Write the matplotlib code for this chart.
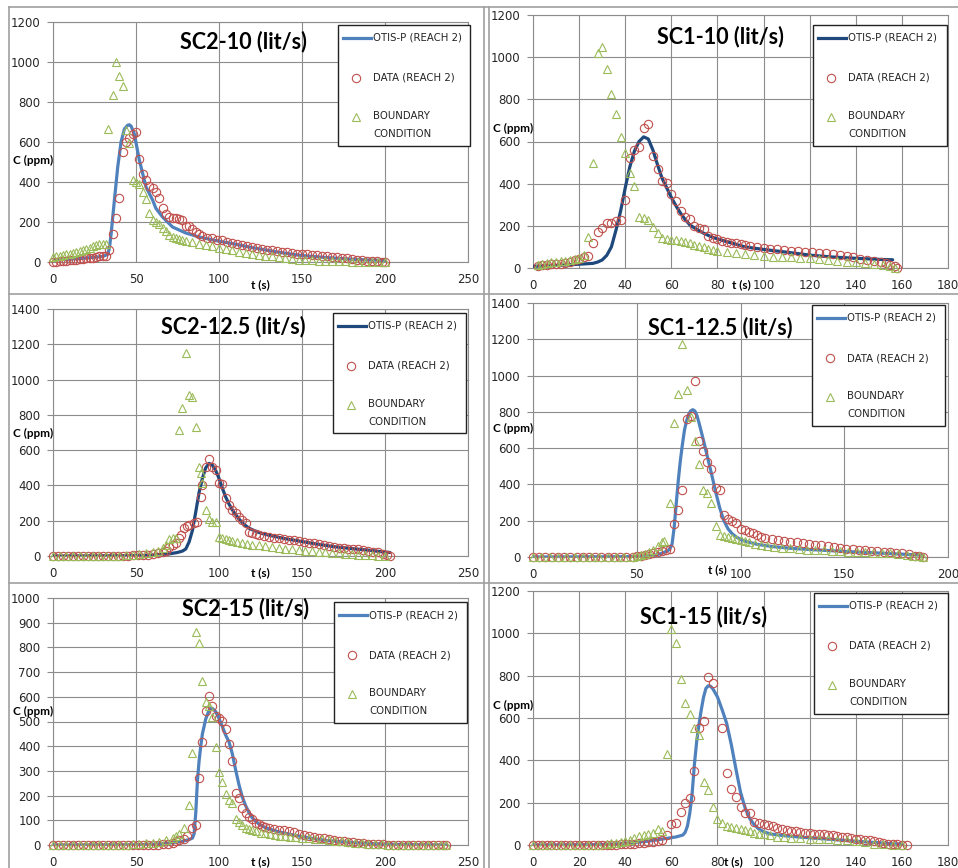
import matplotlib
matplotlib.use("Agg")
import matplotlib.pyplot as plt
from matplotlib.lines import Line2D
from matplotlib.patches import Rectangle

# ---- data (t [s], C [ppm]) ----
sc2_10_otis = [(0, 10), (10, 14), (20, 20), (30, 28), (33, 38), (34, 70), (35, 140), (37, 310), (39, 476),
               (41, 600), (43, 665), (45, 684), (46, 686), (47, 680), (49, 640), (52, 510), (56, 376),
               (60, 310), (62, 268), (66, 225), (72, 175), (80, 145), (88, 125), (100, 104), (108, 92),
               (120, 72), (135, 50), (149, 33), (165, 22), (180, 14), (190, 10), (200, 8)]
sc2_10_data = [(0, 0), (2, 2), (4, 3), (6, 5), (8, 6), (10, 8), (12, 10), (14, 12), (16, 14), (18, 16),
               (20, 18), (22, 20), (24, 22), (26, 25), (28, 28), (30, 30), (32, 28), (34, 60), (36, 140),
               (38, 220), (40, 320), (42, 550), (44, 600), (46, 620), (48, 640), (50, 650), (52, 515),
               (54, 440), (56, 410), (58, 380), (60, 370), (62, 350), (64, 320), (66, 270), (68, 240),
               (70, 225), (72, 220), (74, 220), (76, 215), (78, 210), (80, 180), (82, 180), (84, 165),
               (86, 150), (88, 140), (90, 130), (93, 122), (96, 118), (99, 112), (102, 108), (105, 102),
               (108, 97), (111, 90), (114, 85), (117, 80), (120, 75), (123, 70), (126, 65), (129, 60),
               (132, 58), (135, 55), (138, 50), (141, 48), (144, 45), (147, 42), (150, 40), (153, 38),
               (156, 36), (159, 34), (162, 32), (165, 30), (168, 27), (171, 25), (174, 22), (177, 18),
               (180, 15), (183, 12), (186, 10), (189, 7), (192, 5), (195, 3), (198, 2), (200, 1)]
sc2_10_bc = [(0, 25), (2, 28), (4, 32), (6, 35), (8, 40), (10, 42), (12, 45), (14, 50), (16, 55), (18, 60),
             (20, 65), (22, 70), (24, 80), (26, 85), (28, 90), (30, 90), (32, 88), (33, 664), (36, 833),
             (38, 998), (40, 931), (42, 878), (44, 660), (46, 595), (48, 410), (50, 400), (52, 390),
             (54, 350), (56, 315), (58, 245), (60, 210), (62, 200), (64, 190), (66, 170), (68, 155),
             (70, 135), (72, 125), (74, 120), (76, 115), (78, 110), (80, 105), (84, 98), (88, 92), (92, 85),
             (96, 78), (100, 70), (104, 64), (108, 58), (112, 52), (116, 46), (120, 40), (124, 36),
             (128, 32), (132, 28), (136, 24), (140, 20), (144, 16), (148, 12), (152, 10), (156, 8),
             (160, 6), (164, 5), (168, 4), (172, 3), (176, 3), (180, 2), (184, 2), (188, 1), (192, 1),
             (196, 0), (200, 0)]

sc1_10_otis = [(0, 8), (10, 12), (20, 18), (26, 22), (28, 28), (30, 38), (32, 60), (34, 100), (36, 180),
               (38, 270), (40, 380), (42, 480), (44, 555), (46, 600), (48, 622), (50, 612), (52, 560),
               (54, 490), (56, 425), (58, 380), (60, 335), (62, 295), (64, 260), (66, 230), (68, 205),
               (70, 190), (74, 165), (78, 145), (84, 125), (92, 100), (100, 88), (110, 75), (121, 60),
               (130, 52), (140, 46), (150, 41), (156, 39)]
sc1_10_data = [(2, 10), (4, 12), (6, 15), (8, 18), (10, 20), (12, 20), (14, 25), (16, 30), (18, 40),
               (20, 45), (22, 50), (24, 55), (26, 118), (28, 169), (30, 190), (32, 213), (34, 215),
               (36, 224), (38, 228), (40, 324), (42, 520), (44, 560), (46, 575), (48, 663), (50, 684),
               (52, 529), (54, 469), (56, 414), (58, 403), (60, 352), (62, 319), (64, 272), (66, 240),
               (68, 232), (70, 200), (72, 192), (74, 185), (76, 150), (78, 142), (80, 136), (82, 130),
               (84, 125), (86, 120), (88, 117), (90, 115), (92, 110), (94, 105), (97, 100), (100, 96),
               (103, 92), (106, 88), (109, 86), (112, 83), (115, 80), (118, 78), (121, 75), (124, 72),
               (127, 70), (130, 66), (133, 60), (136, 55), (139, 50), (142, 45), (145, 40), (148, 35),
               (151, 28), (153, 22), (155, 15), (157, 8), (158, 2)]
sc1_10_bc = [(2, 16), (4, 18), (6, 22), (8, 28), (10, 30), (12, 32), (14, 35), (16, 38), (18, 42), (20, 48),
             (22, 63), (24, 147), (26, 498), (28, 1019), (30, 1050), (32, 945), (34, 825), (36, 730),
             (38, 620), (40, 545), (42, 450), (44, 390), (46, 240), (48, 237), (50, 229), (52, 193),
             (54, 166), (56, 140), (58, 137), (60, 135), (62, 133), (64, 128), (66, 122), (68, 117),
             (70, 110), (72, 105), (74, 100), (76, 92), (78, 87), (80, 82), (84, 76), (88, 72), (92, 68),
             (96, 62), (100, 57), (104, 54), (108, 52), (112, 50), (116, 48), (120, 46), (124, 42),
             (128, 38), (132, 33), (136, 30), (140, 27), (144, 22), (148, 18), (152, 12), (155, 8), (157, 2)]

sc2_125_otis = [(0, 0), (50, 2), (60, 5), (70, 12), (75, 20), (78, 28), (80, 40), (82, 80), (84, 145),
                (86, 250), (88, 360), (90, 440), (92, 500), (94, 525), (96, 515), (98, 485), (100, 440),
                (102, 385), (104, 335), (106, 295), (108, 262), (110, 235), (112, 210), (115, 180),
                (118, 158), (121, 145), (125, 130), (130, 118), (140, 98), (150, 82), (160, 66), (170, 52),
                (180, 42), (190, 33), (200, 22), (203, 20)]
sc2_125_data = [(0, 0), (3, 0), (6, 0), (9, 0), (12, 0), (15, 0), (18, 0), (21, 0), (24, 0), (27, 0), (30, 0),
                (33, 0), (36, 0), (39, 0), (42, 0), (45, 2), (48, 3), (51, 5), (54, 6), (57, 8), (60, 10),
                (63, 15), (66, 20), (68, 30), (70, 53), (72, 60), (74, 72), (76, 100), (77, 119), (79, 157),
                (81, 170), (82, 176), (85, 185), (87, 191), (89, 333), (90, 403), (92, 507), (94, 549),
                (96, 507), (98, 488), (100, 412), (102, 409), (104, 327), (106, 290), (108, 261), (110, 242),
                (112, 223), (114, 204), (116, 185), (118, 138), (120, 130), (122, 125), (124, 120), (127, 112),
                (130, 106), (133, 102), (136, 100), (139, 97), (142, 93), (145, 90), (148, 84), (151, 80),
                (154, 76), (157, 72), (160, 66), (163, 62), (166, 58), (169, 52), (172, 48), (175, 45),
                (178, 42), (181, 40), (184, 37), (187, 34), (190, 30), (193, 25), (196, 20), (199, 14),
                (201, 8), (203, 2)]
sc2_125_bc = [(0, 0), (4, 0), (8, 0), (12, 0), (16, 0), (20, 0), (24, 0), (28, 0), (32, 0), (36, 0), (40, 2),
              (44, 4), (48, 6), (52, 10), (56, 15), (60, 20), (63, 30), (66, 45), (68, 62), (70, 95), (72, 100),
              (74, 100), (76, 715), (78, 838), (80, 1150), (82, 914), (84, 904), (86, 734), (88, 507),
              (89, 469), (90, 412), (92, 261), (94, 208), (96, 195), (98, 195), (100, 106), (102, 100),
              (104, 95), (106, 90), (108, 85), (111, 80), (114, 75), (117, 70), (120, 65), (124, 60), (128, 55),
              (132, 50), (136, 46), (140, 42), (144, 38), (148, 34), (152, 30), (156, 27), (160, 25), (164, 22),
              (168, 18), (172, 15), (176, 12), (180, 10), (184, 8), (188, 5), (192, 3), (196, 1), (200, 0)]

sc1_125_otis = [(0, 0), (50, 2), (58, 8), (62, 20), (65, 35), (66, 45), (67, 70), (68, 160), (69, 290),
                (70, 420), (71, 530), (72, 620), (73, 700), (74, 750), (75, 785), (76, 805), (77, 812),
                (78, 805), (79, 780), (80, 740), (82, 650), (84, 555), (86, 460), (88, 360), (90, 270),
                (92, 200), (94, 155), (96, 128), (98, 110), (100, 97), (103, 85), (108, 70), (115, 58),
                (125, 47), (140, 37), (155, 28), (170, 20), (188, 10)]
sc1_125_data = [(0, 0), (3, 0), (6, 0), (9, 0), (12, 0), (15, 0), (18, 0), (21, 0), (24, 0), (27, 0), (30, 0),
                (33, 0), (36, 0), (39, 0), (42, 0), (45, 0), (48, 2), (50, 5), (52, 8), (54, 12), (56, 15),
                (58, 22), (60, 28), (62, 35), (64, 40), (66, 46), (68, 180), (70, 258), (72, 368), (74, 761),
                (76, 775), (78, 972), (80, 641), (82, 586), (84, 521), (86, 484), (88, 383), (90, 368),
                (92, 230), (94, 212), (96, 199), (98, 190), (100, 157), (102, 150), (104, 140), (106, 130),
                (108, 120), (110, 110), (112, 105), (115, 100), (118, 95), (121, 90), (124, 85), (127, 80),
                (130, 76), (133, 72), (136, 68), (139, 64), (142, 60), (145, 55), (148, 48), (151, 44),
                (154, 42), (157, 40), (160, 38), (163, 35), (166, 32), (169, 30), (172, 27), (175, 24),
                (178, 20), (181, 14), (184, 8), (186, 4), (188, 2)]
sc1_125_bc = [(0, 0), (4, 0), (8, 0), (12, 0), (16, 0), (20, 0), (24, 0), (28, 0), (32, 0), (36, 0), (40, 0),
              (44, 0), (48, 2), (50, 8), (52, 12), (54, 18), (56, 25), (58, 40), (60, 60), (62, 83), (63, 88),
              (66, 298), (68, 740), (70, 897), (72, 1173), (74, 921), (76, 773), (78, 641), (80, 512),
              (82, 368), (84, 355), (86, 300), (88, 169), (90, 120), (92, 116), (94, 110), (96, 105),
              (98, 100), (100, 92), (102, 86), (104, 80), (107, 74), (110, 68), (113, 62), (116, 57), (120, 52),
              (124, 48), (128, 44), (132, 40), (136, 38), (140, 36), (144, 34), (148, 32), (152, 30), (156, 28),
              (160, 26), (164, 24), (168, 22), (172, 20), (176, 16), (180, 12), (183, 8), (186, 4), (188, 1)]

sc2_15_otis = [(0, 0), (50, 1), (60, 3), (70, 8), (78, 15), (82, 22), (84, 28), (85, 45), (86, 130), (87, 260),
               (88, 340), (89, 400), (90, 450), (92, 510), (94, 545), (95, 553), (96, 553), (98, 540),
               (100, 512), (102, 480), (104, 445), (106, 418), (108, 370), (110, 305), (112, 245), (114, 195),
               (116, 160), (118, 132), (120, 110), (124, 85), (128, 70), (135, 55), (145, 40), (155, 28),
               (165, 18), (180, 10), (195, 5), (210, 2), (237, 0)]
sc2_15_data = [(0, 0), (3, 0), (6, 0), (9, 0), (12, 0), (15, 0), (18, 0), (21, 0), (24, 0), (27, 0), (30, 0),
               (33, 0), (36, 0), (39, 0), (42, 0), (45, 0), (48, 0), (51, 0), (54, 0), (57, 0), (60, 1), (63, 2),
               (66, 4), (69, 6), (72, 10), (74, 15), (76, 20), (79, 26), (81, 36), (84, 70), (86, 81),
               (88, 270), (90, 418), (92, 542), (94, 605), (96, 562), (98, 522), (100, 515), (102, 504),
               (104, 468), (106, 410), (108, 340), (110, 212), (112, 189), (114, 151), (116, 131), (118, 115),
               (120, 105), (122, 90), (124, 84), (126, 78), (128, 72), (130, 70), (133, 65), (136, 62),
               (139, 59), (142, 56), (145, 53), (148, 45), (151, 40), (154, 36), (157, 33), (160, 30),
               (163, 27), (166, 24), (169, 21), (172, 18), (175, 16), (178, 14), (181, 12), (184, 10),
               (187, 8), (190, 6), (193, 5), (196, 4), (199, 3), (202, 2), (205, 1), (208, 1), (211, 0),
               (214, 0), (217, 0), (220, 0), (223, 0), (226, 0), (229, 0), (232, 0), (235, 0), (237, 0)]
sc2_15_bc = [(0, 0), (4, 0), (8, 0), (12, 0), (16, 0), (20, 0), (24, 0), (28, 0), (32, 0), (36, 0), (40, 0),
             (44, 2), (48, 4), (52, 6), (56, 8), (60, 10), (64, 14), (68, 20), (72, 30), (74, 38), (76, 46),
             (79, 67), (82, 160), (84, 373), (86, 861), (88, 818), (90, 663), (92, 578), (94, 562), (96, 517),
             (98, 396), (100, 295), (102, 255), (104, 208), (106, 181), (108, 171), (110, 106), (112, 93),
             (114, 80), (116, 70), (118, 65), (120, 60), (122, 55), (125, 50), (128, 47), (131, 44), (134, 41),
             (137, 38), (140, 35), (143, 33), (146, 31), (150, 30), (154, 28), (158, 26), (162, 24), (166, 21),
             (170, 18), (174, 15), (178, 12), (182, 10), (186, 8), (190, 6), (194, 4), (198, 3), (202, 2),
             (206, 1), (210, 0), (214, 0), (218, 0), (222, 0), (226, 0), (230, 0), (234, 0), (237, 0)]

sc1_15_otis = [(0, 0), (30, 2), (40, 8), (50, 18), (56, 28), (62, 38), (65, 47), (66, 60), (67, 90), (68, 150),
               (69, 240), (70, 380), (71, 490), (72, 570), (73, 640), (74, 700), (75, 740), (76, 752),
               (77, 750), (78, 738), (80, 700), (82, 640), (84, 575), (86, 475), (88, 360), (90, 250),
               (92, 175), (94, 125), (96, 95), (98, 75), (100, 63), (103, 52), (108, 45), (115, 38),
               (125, 30), (135, 22), (145, 14), (155, 7), (160, 4)]
sc1_15_data = [(0, 0), (2, 0), (4, 0), (6, 0), (8, 0), (10, 0), (12, 0), (14, 0), (16, 0), (18, 0), (20, 0),
               (22, 0), (24, 0), (26, 0), (28, 0), (30, 0), (32, 0), (34, 1), (36, 2), (38, 3), (40, 4), (42, 5),
               (44, 6), (46, 8), (48, 10), (50, 12), (52, 16), (54, 20), (56, 24), (58, 47), (60, 98),
               (62, 102), (64, 154), (66, 200), (68, 220), (70, 350), (72, 554), (74, 587), (76, 794),
               (78, 764), (82, 554), (84, 342), (86, 263), (88, 228), (90, 181), (92, 150), (94, 150),
               (96, 110), (98, 105), (100, 100), (102, 95), (104, 90), (106, 82), (108, 76), (110, 72),
               (112, 68), (114, 64), (116, 60), (118, 58), (120, 56), (122, 54), (124, 52), (126, 50),
               (128, 48), (130, 46), (132, 42), (134, 40), (136, 36), (138, 32), (140, 30), (142, 28),
               (144, 25), (146, 22), (148, 20), (150, 14), (152, 10), (154, 7), (156, 5), (158, 3), (160, 2),
               (162, 0)]
sc1_15_bc = [(0, 0), (4, 0), (8, 0), (12, 0), (16, 0), (20, 0), (24, 0), (28, 2), (32, 5), (34, 8), (36, 10),
             (38, 14), (40, 18), (42, 24), (44, 32), (46, 42), (48, 47), (50, 52), (52, 58), (54, 74), (56, 68),
             (58, 428), (60, 1019), (62, 953), (64, 784), (66, 672), (68, 617), (70, 551), (72, 520), (74, 299),
             (76, 260), (78, 181), (80, 121), (82, 102), (84, 92), (86, 85), (88, 80), (90, 75), (92, 70),
             (94, 64), (96, 58), (98, 54), (100, 50), (103, 45), (106, 40), (109, 37), (112, 35), (116, 33),
             (120, 30), (124, 28), (128, 26), (132, 24), (136, 22), (140, 18), (144, 12), (148, 6), (152, 3),
             (156, 2), (160, 1)]

titles = ["SC2-10 (lit/s)", "SC1-10 (lit/s)", "SC2-12.5 (lit/s)",
          "SC1-12.5 (lit/s)", "SC2-15 (lit/s)", "SC1-15 (lit/s)"]
legend_labels = ["OTIS-P (REACH 2)", "DATA (REACH 2)", "BOUNDARY\nCONDITION"]

# ---- layout, all in pixels of a 958 x 868 image ----
W, H = 958, 868
BLUE = "#4f81bd"
NAVY = "#1f497d"
RED = "#c0504d"
GREEN = "#9bbb59"
GRID = "#8c8c8c"

panels = [
    # series, plot box (l, t, r, b), xmax, xstep, ymax, ystep, line colour, title xy, C xy, t xy, legend box
    dict(s=(sc2_10_otis, sc2_10_data, sc2_10_bc), box=(53, 22, 468, 262), xmax=250, xs=50, ymax=1200, ys=200,
         lc=BLUE, ti=(243, 42), cl=(33, 160), tl=(260, 285), lg=(338, 25, 470, 146)),
    dict(s=(sc1_10_otis, sc1_10_data, sc1_10_bc), box=(533, 15, 948, 268), xmax=180, xs=20, ymax=1200, ys=200,
         lc=NAVY, ti=(720, 37), cl=(513, 128), tl=(741, 285), lg=(813, 25, 947, 146)),
    dict(s=(sc2_125_otis, sc2_125_data, sc2_125_bc), box=(53, 309, 468, 556), xmax=250, xs=50, ymax=1400, ys=200,
         lc=NAVY, ti=(233, 327), cl=(33, 433), tl=(260, 573), lg=(333, 313, 466, 433)),
    dict(s=(sc1_125_otis, sc1_125_data, sc1_125_bc), box=(533, 303, 948, 557), xmax=200, xs=50, ymax=1400, ys=200,
         lc=BLUE, ti=(720, 328), cl=(513, 428), tl=(717, 570), lg=(812, 305, 945, 426)),
    dict(s=(sc2_15_otis, sc2_15_data, sc2_15_bc), box=(53, 598, 468, 845), xmax=250, xs=50, ymax=1000, ys=100,
         lc=BLUE, ti=(245, 609), cl=(33, 711), tl=(260, 862), lg=(334, 602, 467, 723)),
    dict(s=(sc1_15_otis, sc1_15_data, sc1_15_bc), box=(533, 591, 948, 845), xmax=180, xs=20, ymax=1200, ys=200,
         lc=BLUE, ti=(703, 617), cl=(513, 705), tl=(733, 862), lg=(814, 593, 948, 714)),
]


def fx(x):
    return x / W


def fy(y):
    return 1 - y / H


fig = plt.figure(figsize=(W / 100, H / 100), dpi=100, facecolor="white")

# outer frames of the six chart windows
for y in (7, 294, 583):
    fig.add_artist(Line2D([fx(9), 1], [fy(y), fy(y)], transform=fig.transFigure, color="#a0a0a0", lw=1.2))
for x in (9, 484, 489):
    fig.add_artist(Line2D([fx(x), fx(x)], [fy(7), 0], transform=fig.transFigure, color="#a0a0a0", lw=1.2))

for p, title in zip(panels, titles):
    l, t, r, b = p["box"]
    ax = fig.add_axes([fx(l), fy(b), (r - l) / W, (b - t) / H])
    otis, data, bc = p["s"]

    ax.plot([a for a, _ in otis], [c for _, c in otis], color=p["lc"], lw=2.3, solid_capstyle="round", zorder=3)
    ax.plot([a for a, _ in data], [c for _, c in data], ls="none", marker="o", mfc="none", mec=RED,
            ms=6, mew=0.8, clip_on=False, zorder=4)
    ax.plot([a for a, _ in bc], [c for _, c in bc], ls="none", marker="^", mfc="none", mec=GREEN,
            ms=6, mew=0.8, clip_on=False, zorder=5)

    ax.set_xlim(0, p["xmax"])
    ax.set_ylim(0, p["ymax"])
    ax.set_xticks(range(0, p["xmax"] + 1, p["xs"]))
    ax.set_yticks(range(0, p["ymax"] + 1, p["ys"]))
    ax.grid(True, color=GRID, lw=0.8)
    ax.set_axisbelow(True)
    for sp in ax.spines.values():
        sp.set_color(GRID)
        sp.set_linewidth(0.8)
    ax.tick_params(axis="y", direction="out", length=4, width=0.8, color=GRID, labelsize=8.5, pad=5)
    ax.tick_params(axis="x", length=0, labelsize=8.5, pad=8)
    for lab in ax.get_xticklabels() + ax.get_yticklabels():
        lab.set_fontfamily("DejaVu Sans")
        lab.set_color("#262626")

    fig.text(fx(p["ti"][0]), fy(p["ti"][1]), title, family="Lato", weight="bold", fontsize=15.5,
             ha="center", va="center")
    fig.text(fx(p["cl"][0]), fy(p["cl"][1]), "C (ppm)", family="Lato", weight="bold", fontsize=8.5,
             ha="center", va="center")
    fig.text(fx(p["tl"][0]), fy(p["tl"][1]), "t (s)", family="Lato", weight="bold", fontsize=8.5,
             ha="center", va="center")

    # legend box drawn in pixel positions
    gl, gt, gr, gb = p["lg"]
    fig.add_artist(Rectangle((fx(gl), fy(gb)), (gr - gl) / W, (gb - gt) / H, transform=fig.transFigure,
                             facecolor="white", edgecolor="#222222", lw=1.0, zorder=6))
    fig.add_artist(Line2D([fx(gl + 5), fx(gl + 33)], [fy(gt + 13), fy(gt + 13)], transform=fig.transFigure,
                          color=p["lc"], lw=2.3, zorder=7))
    fig.add_artist(Line2D([fx(gl + 18)], [fy(gt + 53)], transform=fig.transFigure, ls="none", marker="o",
                          mfc="none", mec=RED, ms=6, mew=0.8, zorder=7))
    fig.add_artist(Line2D([fx(gl + 18)], [fy(gt + 92)], transform=fig.transFigure, ls="none", marker="^",
                          mfc="none", mec=GREEN, ms=6, mew=0.8, zorder=7))
    for (dy, lab) in zip((13, 53, 100), legend_labels):
        fig.text(fx(gl + 35), fy(gt + dy), lab, family="DejaVu Sans", fontsize=7.3, ha="left", va="center",
                 color="#222222", linespacing=1.9, zorder=8)

fig.savefig("out.png", dpi=100, facecolor="white")
